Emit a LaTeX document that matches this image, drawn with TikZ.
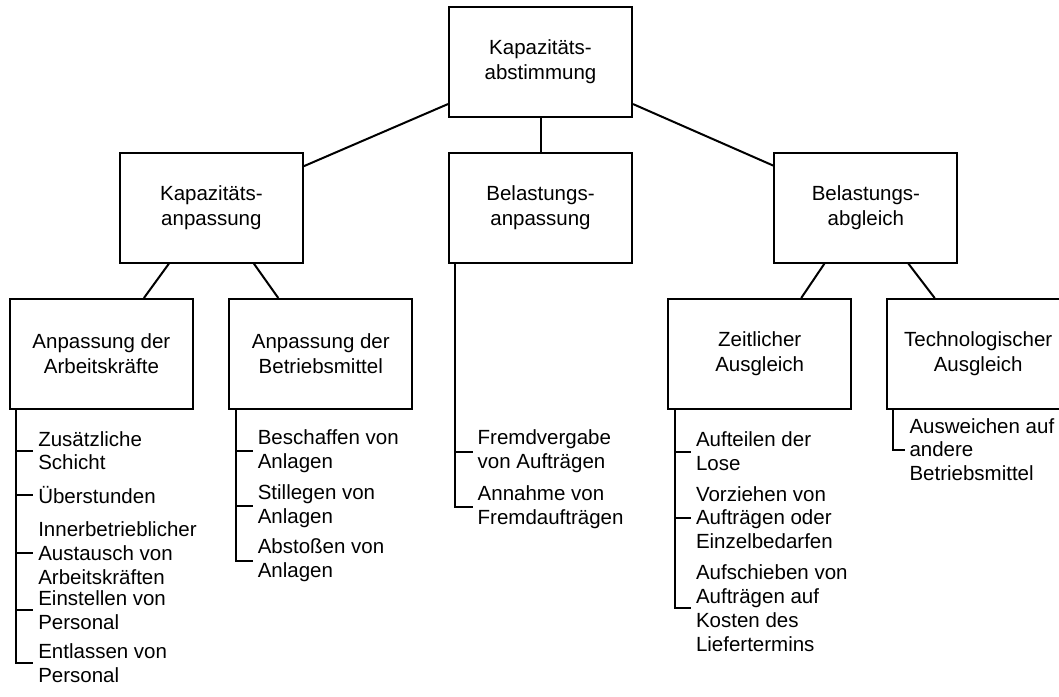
\documentclass[tikz,border=0pt]{standalone}
\usepackage{fontspec}
\setmainfont{Liberation Sans}
\begin{document}
\begin{tikzpicture}[x=1pt,y=-1pt,
  line width=2pt,
  box/.style={draw, minimum width=183pt, minimum height=109.5pt, align=center,
    inner sep=0pt, font=\fontsize{20.5pt}{25pt}\selectfont},
  item/.style={anchor=west, align=left, inner xsep=4pt, inner ysep=0pt,
    font=\fontsize{20.5pt}{23.8pt}\selectfont}]
\clip (0,0) rectangle (1059,696);

% hierarchy boxes
\node[box] (top)  at (540.5,61.8)  {Kapazitäts-\\abstimmung};
\node[box] (kan)  at (211.4,207.9) {Kapazitäts-\\anpassung};
\node[box] (ban)  at (540.5,207.9) {Belastungs-\\anpassung};
\node[box] (bab)  at (865.9,207.9) {Belastungs-\\abgleich};
\node[box] (aak)  at (101.4,353.8) {Anpassung der\\Arbeitskräfte};
\node[box] (abm)  at (320.8,353.8) {Anpassung der\\Betriebsmittel};
\node[box] (zeit) at (759.7,353.8) {Zeitlicher\\Ausgleich};
\node[box] (tech) at (978.2,353.8) {Technologischer\\Ausgleich};

% tree connectors
\draw ([yshift=13.5pt]top.south west) -- ([yshift=-14pt]kan.north east);
\draw (top.south) -- (ban.north);
\draw ([yshift=13.5pt]top.south east) -- ([yshift=-13.5pt]bab.north west);
\draw ([xshift=50pt]kan.south west) -- ([xshift=-50pt]aak.north east);
\draw ([xshift=-50pt]kan.south east) -- ([xshift=50pt]abm.north west);
\draw ([xshift=51pt]bab.south west) -- ([xshift=-51pt]zeit.north east);
\draw ([xshift=-50pt]bab.south east) -- ([xshift=49pt]tech.north west);

% measures: Arbeitskräfte
\node[item] (a1) at (33.3,450.7) {Zusätzliche\\Schicht};
\node[item] (a2) at (33.3,495)   {Überstunden};
\node[item] (a3) at (33.3,553)   {Innerbetrieblicher\\Austausch von\\Arbeitskräften};
\node[item] (a4) at (33.3,610)   {Einstellen von\\Personal};
\node[item] (a5) at (33.3,663.3) {Entlassen von\\Personal};
\foreach \n in {a1,a2,a3,a4,a5}
  \draw ([xshift=7.3pt]aak.south west) |- (\n.west);

% measures: Betriebsmittel
\node[item] (b1) at (252.8,451) {Beschaffen von\\Anlagen};
\node[item] (b2) at (252.8,506) {Stillegen von\\Anlagen};
\node[item] (b3) at (252.8,560.5) {Abstoßen von\\Anlagen};
\foreach \n in {b1,b2,b3}
  \draw ([xshift=7.3pt]abm.south west) |- (\n.west);

% measures: Belastungsanpassung
\node[item] (c1) at (472.7,451.5) {Fremdvergabe\\von Aufträgen};
\node[item] (c2) at (472.7,507.3) {Annahme von\\Fremdaufträgen};
\foreach \n in {c1,c2}
  \draw ([xshift=7.3pt]ban.south west) |- (\n.west);

% measures: zeitlicher Ausgleich
\node[item] (z1) at (691,451.5) {Aufteilen der\\Lose};
\node[item] (z2) at (691,517.5) {Vorziehen von\\Aufträgen oder\\Einzelbedarfen};
\node[item] (z3) at (691,608)   {Aufschieben von\\Aufträgen auf\\Kosten des\\Liefertermins};
\foreach \n in {z1,z2,z3}
  \draw ([xshift=7.3pt]zeit.south west) |- (\n.west);

% measures: technologischer Ausgleich
\node[item] (t1) at (904.5,449.5) {Ausweichen auf\\andere\\Betriebsmittel};
\draw ([xshift=7.6pt]tech.south west) |- (t1.west);
\end{tikzpicture}
\end{document}
